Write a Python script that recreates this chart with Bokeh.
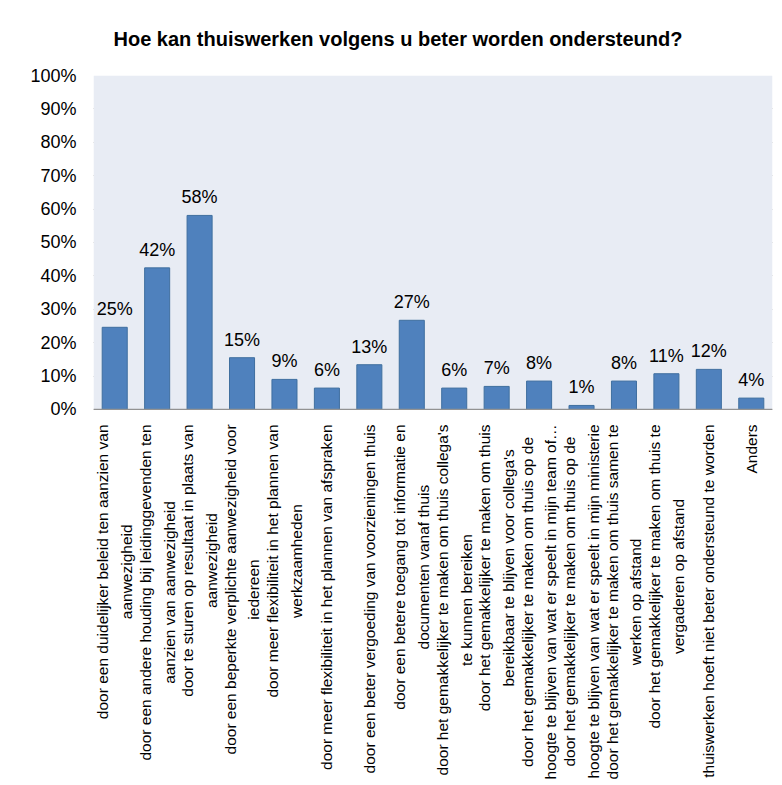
import math
from bokeh.plotting import figure
from bokeh.models import ColumnDataSource, FactorRange, Range1d, NumeralTickFormatter, LabelSet, BoxAnnotation, Span
from bokeh.core.properties import value
from bokeh.embed import file_html
from bokeh.resources import INLINE

title_text = "Hoe kan thuiswerken volgens u beter worden ondersteund?"

categories = [
    "door een duidelijker beleid ten aanzien van\naanwezigheid",
    "door een andere houding bij leidinggevenden ten\naanzien van aanwezigheid",
    "door te sturen op resultaat in plaats van\naanwezigheid",
    "door een beperkte verplichte aanwezigheid voor\niedereen",
    "door meer flexibiliteit in het plannen van\nwerkzaamheden",
    "door meer flexibiliteit in het plannen van afspraken",
    "door een beter vergoeding van voorzieningen thuis",
    "door een betere toegang tot informatie en\ndocumenten vanaf thuis",
    "door het gemakkelijker te maken om thuis collega's\nte kunnen bereiken",
    "door het gemakkelijker te maken om thuis\nbereikbaar te blijven voor collega's",
    "door het gemakkelijker te maken om thuis op de\nhoogte te blijven van wat er speelt in mijn team of…",
    "door het gemakkelijker te maken om thuis op de\nhoogte te blijven van wat er speelt in mijn ministerie",
    "door het gemakkelijker te maken om thuis samen te\nwerken op afstand",
    "door het gemakkelijker te maken om thuis te\nvergaderen op afstand",
    "thuiswerken hoeft niet beter ondersteund te worden",
    "Anders",
]

values = [0.246, 0.424, 0.581, 0.155, 0.090, 0.064, 0.134, 0.267,
          0.064, 0.069, 0.085, 0.012, 0.085, 0.107, 0.120, 0.034]

value_labels = ["25%", "42%", "58%", "15%", "9%", "6%", "13%", "27%",
                "6%", "7%", "8%", "1%", "8%", "11%", "12%", "4%"]

y_ticks = [0.0, 0.1, 0.2, 0.3, 0.4, 0.5, 0.6, 0.7, 0.8, 0.9, 1.0]

factors = [c.replace("\n", " ") for c in categories]
source = ColumnDataSource(dict(cat=factors, val=values, lab=value_labels,
                               catlab=categories, zero=[0.0] * len(factors)))

# y range extends below 0 so the category labels sit inside the frame
p = figure(
    x_range=FactorRange(*factors, range_padding=0),
    y_range=Range1d(-1.126, 1),
    width=782, height=785,
    output_backend="svg", toolbar_location=None,
    min_border_left=93, min_border_right=10,
    min_border_top=75, min_border_bottom=0,
    title=title_text,
)

p.background_fill_color = "white"
p.border_fill_color = "white"
p.outline_line_color = None

# plot area (0..100%) background
p.add_layout(BoxAnnotation(bottom=0, top=1, fill_color="#E8ECF4", fill_alpha=1,
                           line_color=None, level="underlay"))

p.title.text_font = "Liberation Sans"
p.title.text_font_style = "bold"
p.title.text_font_size = "20px"
p.title.text_color = "black"
p.title.align = "left"
p.title.offset = 20
p.title.standoff = 51

p.vbar(x="cat", top="val", width=0.59, source=source,
       fill_color="#4F81BD", line_color="#3F6F9F", line_width=1)

p.add_layout(LabelSet(x="cat", y="val", text="lab", source=source,
                      text_align="center", text_baseline="alphabetic", y_offset=12,
                      text_font=value("Liberation Sans"), text_font_size="18px",
                      text_color="black"))

p.text(x="cat", y="zero", text="catlab", source=source, angle=math.pi / 2,
       anchor="center_right", text_align="center", y_offset=15,
       text_font=value("Liberation Sans"), text_font_size="15.5px",
       text_line_height=1.4, text_color="black")

p.add_layout(Span(location=0, dimension="width", line_color="#929292", line_width=1.2))

p.yaxis.ticker = y_ticks
p.yaxis.formatter = NumeralTickFormatter(format="0%")
p.yaxis.axis_line_color = None
p.yaxis.major_tick_line_color = None
p.yaxis.major_tick_out = 0
p.yaxis.major_tick_in = 0
p.yaxis.minor_tick_line_color = None
p.yaxis.major_label_standoff = 17
p.yaxis.major_label_text_font = "Liberation Sans"
p.yaxis.major_label_text_font_size = "18px"
p.yaxis.major_label_text_color = "black"

p.xaxis.visible = False

p.xgrid.visible = False
p.ygrid.grid_line_color = "#939393"
p.ygrid.grid_line_width = 1.2

open("out.html", "w").write(file_html(p, INLINE))
